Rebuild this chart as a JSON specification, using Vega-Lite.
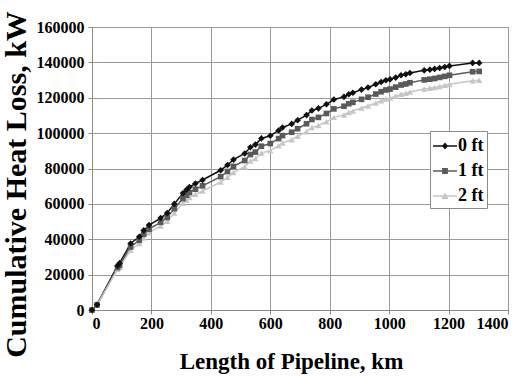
{
  "$schema": "https://vega.github.io/schema/vega-lite/v6.json",
  "width": 416,
  "height": 283,
  "autosize": {"type": "none"},
  "padding": {"left": 92, "top": 27, "right": 17, "bottom": 66},
  "background": "white",
  "config": {
    "view": {"stroke": "#8a8a8a", "strokeWidth": 1},
    "axis": {
      "labelFont": "Liberation Serif",
      "labelFontWeight": "bold",
      "labelFontSize": 16,
      "labelColor": "#000000",
      "titleFont": "Liberation Serif",
      "titleFontWeight": "bold",
      "titleColor": "#000000",
      "gridColor": "#9a9a9a",
      "gridOpacity": 1,
      "gridWidth": 1,
      "domainColor": "#8a8a8a",
      "tickColor": "#8a8a8a",
      "tickSize": 4
    }
  },
  "data": {
    "values": [
      {"km": 0, "0 ft": 0, "1 ft": 0, "2 ft": 0},
      {"km": 17, "0 ft": 3000, "1 ft": 2900, "2 ft": 2800},
      {"km": 86, "0 ft": 25000, "1 ft": 24000, "2 ft": 23000},
      {"km": 93, "0 ft": 26500, "1 ft": 25300, "2 ft": 24200},
      {"km": 130, "0 ft": 37600, "1 ft": 35600, "2 ft": 33800},
      {"km": 159, "0 ft": 41400, "1 ft": 39400, "2 ft": 37600},
      {"km": 174, "0 ft": 45000, "1 ft": 42800, "2 ft": 40900},
      {"km": 192, "0 ft": 48000, "1 ft": 45700, "2 ft": 43700},
      {"km": 231, "0 ft": 52000, "1 ft": 49600, "2 ft": 47500},
      {"km": 253, "0 ft": 54800, "1 ft": 52300, "2 ft": 50100},
      {"km": 277, "0 ft": 60000, "1 ft": 57300, "2 ft": 54900},
      {"km": 306, "0 ft": 66000, "1 ft": 63000, "2 ft": 60400},
      {"km": 318, "0 ft": 68000, "1 ft": 64900, "2 ft": 62200},
      {"km": 328, "0 ft": 69500, "1 ft": 66400, "2 ft": 63600},
      {"km": 348, "0 ft": 71500, "1 ft": 68300, "2 ft": 65400},
      {"km": 372, "0 ft": 73500, "1 ft": 70200, "2 ft": 67300},
      {"km": 433, "0 ft": 79000, "1 ft": 75400, "2 ft": 72300},
      {"km": 456, "0 ft": 82000, "1 ft": 78300, "2 ft": 75000},
      {"km": 476, "0 ft": 85000, "1 ft": 81200, "2 ft": 77800},
      {"km": 514, "0 ft": 88500, "1 ft": 84500, "2 ft": 81000},
      {"km": 533, "0 ft": 92000, "1 ft": 87900, "2 ft": 84200},
      {"km": 550, "0 ft": 93500, "1 ft": 89300, "2 ft": 85600},
      {"km": 570, "0 ft": 97000, "1 ft": 92600, "2 ft": 88800},
      {"km": 600, "0 ft": 98500, "1 ft": 94100, "2 ft": 90100},
      {"km": 628, "0 ft": 101500, "1 ft": 96900, "2 ft": 92900},
      {"km": 641, "0 ft": 103200, "1 ft": 98600, "2 ft": 94400},
      {"km": 672, "0 ft": 105200, "1 ft": 100500, "2 ft": 96300},
      {"km": 692, "0 ft": 107300, "1 ft": 102500, "2 ft": 98200},
      {"km": 722, "0 ft": 110200, "1 ft": 105300, "2 ft": 100800},
      {"km": 740, "0 ft": 112800, "1 ft": 107700, "2 ft": 103200},
      {"km": 762, "0 ft": 114000, "1 ft": 108900, "2 ft": 104300},
      {"km": 789, "0 ft": 116300, "1 ft": 111100, "2 ft": 106400},
      {"km": 814, "0 ft": 119000, "1 ft": 113700, "2 ft": 108900},
      {"km": 848, "0 ft": 120500, "1 ft": 115200, "2 ft": 110300},
      {"km": 864, "0 ft": 122000, "1 ft": 116600, "2 ft": 111700},
      {"km": 878, "0 ft": 122800, "1 ft": 117400, "2 ft": 112500},
      {"km": 907, "0 ft": 124600, "1 ft": 119100, "2 ft": 114200},
      {"km": 929, "0 ft": 125800, "1 ft": 120300, "2 ft": 115300},
      {"km": 955, "0 ft": 127600, "1 ft": 122100, "2 ft": 117000},
      {"km": 973, "0 ft": 128900, "1 ft": 123400, "2 ft": 118300},
      {"km": 989, "0 ft": 129900, "1 ft": 124400, "2 ft": 119300},
      {"km": 1003, "0 ft": 130400, "1 ft": 124900, "2 ft": 119800},
      {"km": 1022, "0 ft": 131400, "1 ft": 126000, "2 ft": 120800},
      {"km": 1040, "0 ft": 132700, "1 ft": 127200, "2 ft": 122000},
      {"km": 1056, "0 ft": 133300, "1 ft": 127800, "2 ft": 122600},
      {"km": 1070, "0 ft": 134000, "1 ft": 128500, "2 ft": 123300},
      {"km": 1118, "0 ft": 135500, "1 ft": 130100, "2 ft": 124900},
      {"km": 1137, "0 ft": 135900, "1 ft": 130500, "2 ft": 125400},
      {"km": 1153, "0 ft": 136300, "1 ft": 130900, "2 ft": 125800},
      {"km": 1170, "0 ft": 136800, "1 ft": 131500, "2 ft": 126400},
      {"km": 1187, "0 ft": 137400, "1 ft": 132100, "2 ft": 127000},
      {"km": 1203, "0 ft": 138000, "1 ft": 132700, "2 ft": 127600},
      {"km": 1281, "0 ft": 139700, "1 ft": 134700, "2 ft": 129600},
      {"km": 1303, "0 ft": 139700, "1 ft": 134900, "2 ft": 129900}
    ]
  },
  "transform": [{"fold": ["0 ft", "1 ft", "2 ft"], "as": ["series", "kW"]}],
  "encoding": {
    "x": {
      "field": "km", "type": "quantitative",
      "scale": {"domain": [0, 1400], "nice": false},
      "axis": {
        "values": [0, 200, 400, 600, 800, 1000, 1200, 1400],
        "format": "d",
        "title": "Length of Pipeline, km",
        "titleFontSize": 23,
        "titleX": 199,
        "titleY": 58,
        "titleBaseline": "alphabetic",
        "titleAlign": "center",
        "labelPadding": 1
      }
    },
    "y": {
      "field": "kW", "type": "quantitative",
      "scale": {"domain": [0, 160000], "nice": false},
      "axis": {
        "values": [0, 20000, 40000, 60000, 80000, 100000, 120000, 140000, 160000],
        "format": "d",
        "title": "Cumulative Heat Loss, kW",
        "titleFontSize": 30,
        "titleX": -76,
        "titleY": 157,
        "titleAngle": -90,
        "titleBaseline": "middle",
        "titleAlign": "center",
        "labelPadding": 4
      }
    }
  },
  "layer": [
    {
      "mark": {"type": "line", "strokeWidth": 1.5},
      "encoding": {
        "color": {
          "field": "series", "type": "nominal",
          "title": null,
          "scale": {"domain": ["0 ft", "1 ft", "2 ft"], "range": ["#111111", "#5a5a5a", "#c6c6c6"]},
          "legend": {
            "orient": "none",
            "legendX": 338,
            "legendY": 104,
            "padding": 3,
            "strokeColor": "#8a8a8a",
            "fillColor": "#ffffff",
            "labelFont": "Liberation Serif",
            "labelFontWeight": "bold",
            "labelFontSize": 18,
            "labelColor": "#000000",
            "labelOffset": 1,
            "rowPadding": 4,
            "symbolSize": 576,
            "encode": {
              "symbols": {
                "update": {
                  "shape": {"signal": "datum.value === '0 ft' ? 'M-1,-0.06H1V0.06H-1Z M0,-0.3L0.26,0L0,0.3L-0.26,0Z' : datum.value === '1 ft' ? 'M-1,-0.06H1V0.06H-1Z M-0.24,-0.24H0.24V0.24H-0.24Z' : 'M-1,-0.06H1V0.06H-1Z M0,-0.3L0.3,0.24L-0.3,0.24Z'"},
                  "fill": {"scale": "color", "field": "value"},
                  "stroke": {"value": "transparent"},
                  "strokeWidth": {"value": 0},
                  "opacity": {"value": 1}
                }
              }
            }
          }
        }
      }
    },
    {
      "transform": [{"filter": "datum.series === '2 ft'"}],
      "mark": {"type": "point", "shape": "triangle-up", "filled": true, "size": 40, "opacity": 1, "color": "#c6c6c6"}
    },
    {
      "transform": [{"filter": "datum.series === '1 ft'"}],
      "mark": {"type": "point", "shape": "square", "filled": true, "size": 32, "opacity": 1, "color": "#5a5a5a"}
    },
    {
      "transform": [{"filter": "datum.series === '0 ft'"}],
      "mark": {"type": "point", "shape": "diamond", "filled": true, "size": 44, "opacity": 1, "color": "#111111"}
    }
  ]
}
